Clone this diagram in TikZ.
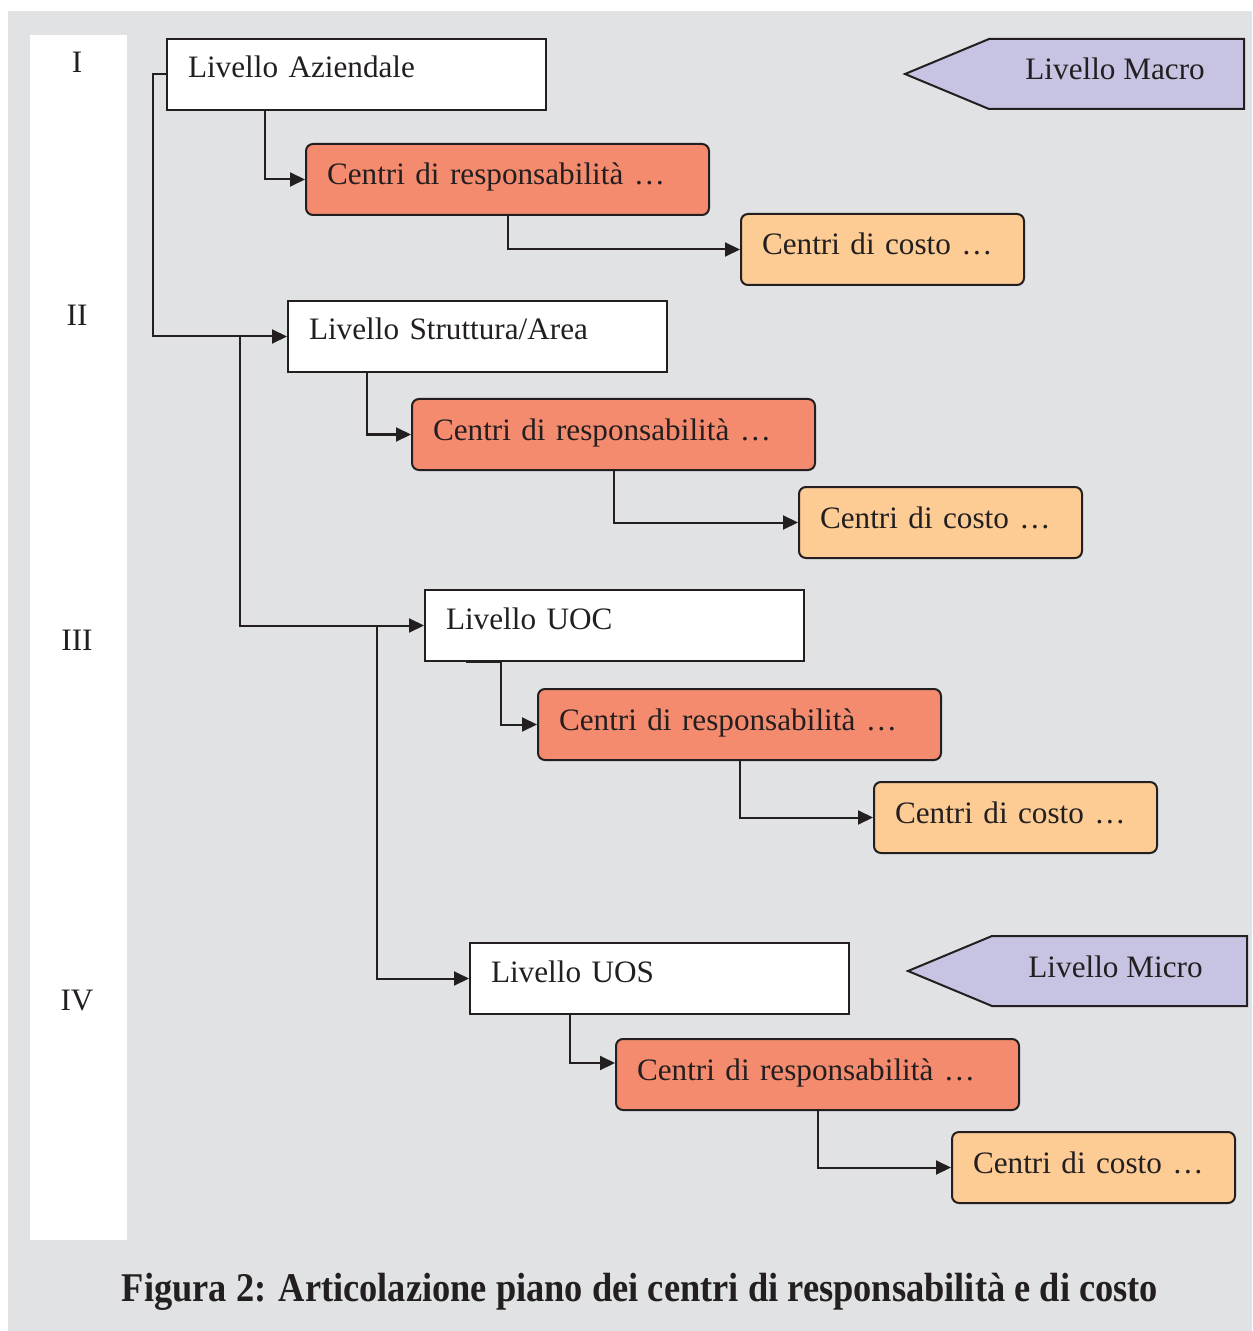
\documentclass[tikz,border=0pt]{standalone}
\usepackage{fontspec}
\setmainfont{Liberation Serif}
\usetikzlibrary{calc,arrows.meta}
\definecolor{bggray}{HTML}{E1E2E4}
\definecolor{salmon}{HTML}{F48B6E}
\definecolor{peach}{HTML}{FDCB94}
\definecolor{lavender}{HTML}{C7C3E2}
\definecolor{ink}{HTML}{231F20}
\tikzset{
  x=0.5pt,y=-0.5pt,
  every node/.style={text=ink},
  base/.style={draw=ink,line width=1pt,anchor=north west,inner sep=0pt,inner xsep=10.5pt,
    align=left,font=\fontsize{15.6}{18}\selectfont},
  lvlbox/.style={base,fill=white,minimum width=189.5pt,minimum height=35.5pt,
    text width=168.5pt,text height=19.5pt,text depth=16pt},
  respbox/.style={base,fill=salmon,rounded corners=3.5pt,minimum width=201.5pt,minimum height=35.5pt,
    text width=180.5pt,text height=20.5pt,text depth=15pt},
  costbox/.style={base,fill=peach,rounded corners=3.5pt,minimum width=141.5pt,minimum height=35.5pt,
    text width=120.5pt,text height=20.5pt,text depth=15pt},
  conn/.style={draw=ink,line width=1pt},
  arr/.style={conn,-{Triangle[length=7.5pt,width=7pt]}},
  numeral/.style={anchor=base,font=\fontsize{15.6}{18}\selectfont},
  tag/.style={draw=ink,line width=1pt,fill=lavender},
  tagtext/.style={anchor=base west,inner sep=0pt,font=\fontsize{15.6}{18}\selectfont}
}
\begin{document}
\begin{tikzpicture}
\useasboundingbox (0,0) rectangle (1252,1331);
\fill[white] (0,0) rectangle (1252,1331);
\fill[bggray] (8,11) rectangle (1252,1331);
\fill[white] (30,35) rectangle (127,1240);

% roman numerals
\node[numeral] (n1) at (77,73) {I};
\node[numeral] (n2) at (77,326) {II};
\node[numeral] (n3) at (77,650) {III};
\node[numeral] (n4) at (77,1010) {IV};

% boxes
\node[lvlbox] (az) at (166,38) {Livello Aziendale};
\node[respbox] (cdr1) at (305,143) {Centri di responsabilità …};
\node[costbox] (cdc1) at (740,213) {Centri di costo …};

\node[lvlbox] (st) at (287,300) {Livello Struttura/Area};
\node[respbox] (cdr2) at (411,398) {Centri di responsabilità …};
\node[costbox] (cdc2) at (798,486) {Centri di costo …};

\node[lvlbox] (uoc) at (424,589) {Livello UOC};
\node[respbox] (cdr3) at (537,688) {Centri di responsabilità …};
\node[costbox] (cdc3) at (873,781) {Centri di costo …};

\node[lvlbox] (uos) at (469,942) {Livello UOS};
\node[respbox] (cdr4) at (615,1038) {Centri di responsabilità …};
\node[costbox] (cdc4) at (951,1131) {Centri di costo …};

% tags
\draw[tag] (905,74) -- (989,39) -- (1244,39) -- (1244,109) -- (989,109) -- cycle;
\node[tagtext] (macro) at (1025,80) {Livello Macro};
\draw[tag] (908,971) -- (992,936) -- (1247,936) -- (1247,1006) -- (992,1006) -- cycle;
\node[tagtext] (micro) at (1028,977) {Livello Micro};

% main spine connectors
\draw[arr] (az.west) -- ++(-13,0) |- (st.west);
\coordinate (b1) at ($(st.west)+(-47,0)$);
\draw[arr] (b1) |- (uoc.west);
\coordinate (b2) at ($(uoc.west)+(-47,0)$);
\draw[arr] (b2) |- (uos.west);

% level -> responsibility
\draw[arr] ($(az.south west)+(99,0)$) |- (cdr1.west);
\draw[arr] ($(st.south west)+(80,0)$) |- (cdr2.west);
\draw[arr] ($(uoc.south west)+(42,0)$) -- ++(35,0) |- (cdr3.west);
\draw[arr] ($(uos.south west)+(101,0)$) |- ($(cdr4.north west)+(0,25)$);

% responsibility -> cost
\draw[arr] (cdr1.south) |- (cdc1.west);
\draw[arr] (cdr2.south) |- (cdc2.west);
\draw[arr] (cdr3.south) |- (cdc3.west);
\draw[arr] (cdr4.south) |- (cdc4.west);

% caption
\node[anchor=base,inner sep=0pt] (cap) at (640,1301)
  {\resizebox{518pt}{\height}{\fontsize{20.4}{24}\selectfont\bfseries Figura 2: Articolazione piano dei centri di responsabilità e di costo}};
\end{tikzpicture}
\end{document}
